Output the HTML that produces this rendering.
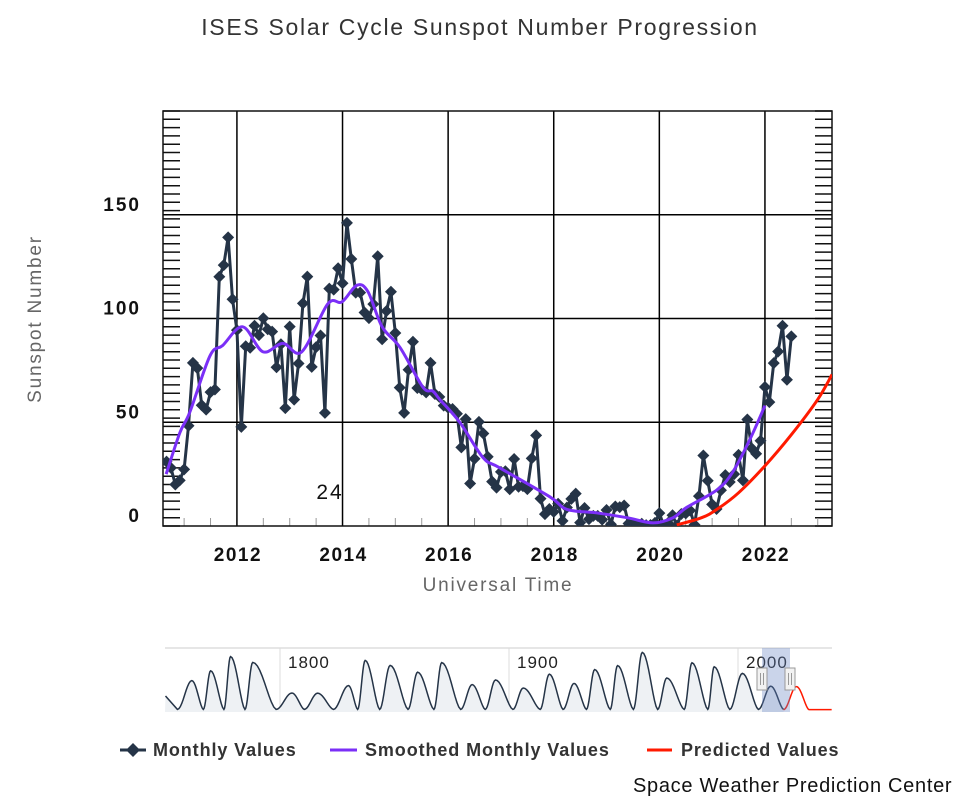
<!DOCTYPE html>
<html><head><meta charset="utf-8"><style>
body{margin:0;background:#fff;width:960px;height:800px;overflow:hidden;font-family:"Liberation Sans","DejaVu Sans",sans-serif}
svg text{font-family:"Liberation Sans","DejaVu Sans",sans-serif}
</style></head><body>
<svg id="c" width="960" height="800" xmlns="http://www.w3.org/2000/svg">
<text x="480" y="35" text-anchor="middle" font-size="23" letter-spacing="1.7" fill="#333">ISES Solar Cycle Sunspot Number Progression</text>
<text transform="translate(41,319) rotate(-90)" text-anchor="middle" font-size="19" letter-spacing="1.8" fill="#666">Sunspot Number</text>
<text x="498" y="591" text-anchor="middle" font-size="19" letter-spacing="1.8" fill="#666">Universal Time</text>
<g id="plot"></g>
<g id="nav"></g>
<g>
 <g><line x1="120" y1="750" x2="146" y2="750" stroke="#253447" stroke-width="3"/><path d="M133 743 L140 750 L133 757 L126 750Z" fill="#253447"/><text x="153" y="756" font-size="18" letter-spacing="0.9" font-weight="bold" fill="#333">Monthly Values</text></g>
 <g><line x1="330" y1="750" x2="357" y2="750" stroke="#7b2ff7" stroke-width="3"/><text x="365" y="756" font-size="18" letter-spacing="0.9" font-weight="bold" fill="#333">Smoothed Monthly Values</text></g>
 <g><line x1="647" y1="750" x2="672" y2="750" stroke="#ff1a00" stroke-width="3"/><text x="681" y="756" font-size="18" letter-spacing="0.9" font-weight="bold" fill="#333">Predicted Values</text></g>
</g>
<text x="633" y="792" font-size="20" letter-spacing="0.7" fill="#111">Space Weather Prediction Center</text>
</svg>
<script>
const monthlyStart = 2010 + 8/12; // Sep 2010
const monthlyValues = [31,28,20,22,
27.3,48.3,78.6,76.1,58.2,56.1,64.5,65.8,120.1,125.7,139.1,109.3,
94.4,47.8,86.6,85.9,96.5,92.0,100.1,94.8,93.7,76.5,87.6,56.8,
96.1,60.9,78.3,107.3,120.2,76.7,86.2,91.8,54.5,114.4,113.9,124.2,
117.0,146.1,128.7,112.5,112.5,102.9,100.2,106.9,130.0,90.0,103.6,112.9,
93.0,66.7,54.5,75.3,88.8,66.5,65.8,64.4,78.6,63.6,62.2,58.0,
57.0,56.4,54.1,37.9,51.5,20.5,32.4,50.2,44.6,33.4,21.4,18.5,
26.1,26.4,17.7,32.3,18.9,19.2,17.8,32.6,43.7,13.2,5.7,8.2,
6.8,10.7,2.5,8.9,13.1,15.6,1.6,8.7,3.3,4.9,4.9,3.1,
7.7,0.8,9.4,9.1,9.9,1.2,0.9,0.5,1.1,0.4,0.5,1.5,
6.2,0.2,1.5,5.2,0.2,5.8,6.1,7.5,0.6,14.4,34.0,21.8,
10.4,8.2,17.2,24.5,21.2,25.0,34.3,22.0,51.3,37.4,34.8,41.1,
67.0,59.7,78.5,84.1,96.5,70.5,91.4];
const smoothYears = [2010.66,2010.92,2011.11,2011.49,2011.73,2012.11,2012.49,2012.87,2013.23,2013.72,2013.99,2014.27,2014.48,2014.75,2015.09,2015.52,2015.71,2015.84,2016.22,2016.66,2016.98,2017.93,2018.25,2018.82,2019.39,2019.88,2020.26,2020.52,2021.09,2021.39,2021.72,2022.0];
const smoothValues = [25,45,55,82,87,96,84,88,84,107,108,116,113,96,86,67,65,61,50,33,28,14,8,6.3,4,1.5,4,9,17.4,26,42,58];
const predYears = [2020.33,2020.8,2021.09,2021.5,2022.0,2022.5,2023.0,2023.27];
const predValues = [0.5,4,8,16,29,44,61,73];
const yTicks = [0,50,100,150];
const xTicks = [2012,2014,2016,2018,2020,2022];
const cycleLabel = "24";
const cycleMinYears = [1755.2,1766.5,1775.5,1784.7,1798.3,1810.6,1823.3,1833.9,1843.5,1855.9,1867.2,1878.9,1889.6,1901.7,1913.6,1923.6,1933.8,1944.2,1954.3,1964.9,1976.5,1986.8,1996.4,2008.9,2019.9];
const cycleMaxYears = [1761.5,1769.7,1778.4,1788.1,1805.2,1816.4,1829.9,1837.2,1848.1,1860.1,1870.6,1883.9,1894.1,1906.2,1917.6,1928.4,1937.4,1947.4,1958.2,1968.9,1979.9,1989.6,2001.9,2014.3];
const cycleMaxValues = [144,193,264,235,82,81,119,245,220,186,234,124,147,107,176,130,199,219,285,157,233,213,180,116];
const navTicks = [1800,1900,2000];

const NS="http://www.w3.org/2000/svg";
function mk(tag,attrs,parent){const e=document.createElementNS(NS,tag);for(const k in attrs)e.setAttribute(k,attrs[k]);parent.appendChild(e);return e;}
const L=163,R=832,T=111,B=526;
const X0=2010.6,X1=2023.27,Y1=200,Y0=0;
const xs=y=>L+(y-X0)/(X1-X0)*(R-L);
const ys=v=>B-(v-Y0)/(Y1-Y0)*(B-T);
const plot=document.getElementById('plot');
const defs=mk('defs',{},plot);
const cp=mk('clipPath',{id:'pc'},defs);mk('rect',{x:L,y:T-8,width:R-L,height:B-T+8},cp);
for(let v=Y0;v<=Y1;v+=4){const y=ys(v);
 const t1=mk('line',{x1:L,x2:L+17,y1:y,y2:y,stroke:'#111','stroke-width':1.5},plot);
 
 const t2=mk('line',{x1:R-17,x2:R,y1:y,y2:y,stroke:'#111','stroke-width':1.5},plot);
 }
for(let yr=2011;yr<=2023;yr+=0.5){const x=xs(yr);const t=mk('line',{x1:x,x2:x,y1:B-8,y2:B,stroke:'#999','stroke-width':1},plot);
 }
yTicks.forEach(v=>{const y=ys(v);
 if(v>0){const g=mk('line',{x1:L,x2:R,y1:y,y2:y,stroke:'#000','stroke-width':1.5},plot);}
 const t=mk('text',{x:141,y:y-4,'text-anchor':'end','font-size':19,'letter-spacing':2,'font-weight':'bold',fill:'#111'},plot);t.textContent=v;
 });
xTicks.forEach(v=>{const x=xs(v);
 const g=mk('line',{x1:x,x2:x,y1:T,y2:B,stroke:'#000','stroke-width':1.5},plot);
 const t=mk('text',{x:x+1,y:B+35,'text-anchor':'middle','font-size':19,'letter-spacing':1.5,'font-weight':'bold',fill:'#111'},plot);t.textContent=v;
 });
const fr=mk('rect',{x:L,y:T,width:R-L,height:B-T,fill:'none',stroke:'#111','stroke-width':1.5},plot);

const cl=mk('text',{x:330,y:499,'text-anchor':'middle','font-size':21,'letter-spacing':2,fill:'#111'},plot);cl.textContent=cycleLabel;

const series=mk('g',{'clip-path':'url(#pc)'},plot);
function smoothPath(pts){let d=`M${pts[0][0]},${pts[0][1]}`;for(let i=0;i<pts.length-1;i++){const p0=pts[Math.max(0,i-1)],p1=pts[i],p2=pts[i+1],p3=pts[Math.min(pts.length-1,i+2)];
 d+=` C${p1[0]+(p2[0]-p0[0])/6},${p1[1]+(p2[1]-p0[1])/6} ${p2[0]-(p3[0]-p1[0])/6},${p2[1]-(p3[1]-p1[1])/6} ${p2[0]},${p2[1]}`;}return d;}
const mpts=monthlyValues.map((v,i)=>[xs(monthlyStart+i/12),ys(v)]);
const ml=mk('polyline',{points:mpts.map(p=>p.join(',')).join(' '),fill:'none',stroke:'#253447','stroke-width':3,'stroke-linejoin':'round'},series);

mpts.forEach(p=>{const d=mk('path',{d:`M${p[0]},${p[1]-6} L${p[0]+6},${p[1]} L${p[0]},${p[1]+6} L${p[0]-6},${p[1]}Z`,fill:'#253447'},series);
 });
const sp=mk('path',{d:smoothPath(smoothYears.map((y,i)=>[xs(y),ys(smoothValues[i])])),fill:'none',stroke:'#7b2ff7','stroke-width':3},series);

const pp=mk('path',{d:smoothPath(predYears.map((y,i)=>[xs(y),ys(predValues[i])])),fill:'none',stroke:'#ff1a00','stroke-width':3},series);


const nav=document.getElementById('nav');
const NL=165,NR=832,NT=648,NB=712;
const nx=y=>280+(y-1800)*2.29;
const ny=v=>710-v*0.2;
const bg=mk('rect',{x:NL,y:NT,width:NR-NL,height:NB-NT,fill:'#fff'},nav);

mk('line',{x1:NL,x2:NR,y1:NT,y2:NT,stroke:'#ccc','stroke-width':1},nav);
navTicks.forEach(v=>{const x=nx(v);const g=mk('line',{x1:x,x2:x,y1:NT,y2:NB,stroke:'#ddd'},nav);
 const t=mk('text',{x:x+8,y:668,'font-size':17,'letter-spacing':1,fill:'#222'},nav);t.textContent=v;});
let npts=[[1750,70]];
for(let i=0;i<cycleMaxYears.length;i++){const a=cycleMinYears[i],m=cycleMaxYears[i],b=cycleMinYears[i+1],h=cycleMaxValues[i];
 for(let s=0;s<=1;s+=0.1)npts.push([a+(m-a)*s,h*Math.pow(Math.sin(s*Math.PI/2),2)+3]);
 for(let s=0.1;s<=1;s+=0.1)npts.push([m+(b-m)*s,h*Math.pow(Math.cos(s*Math.PI/2),1.6)+3]);}
npts=npts.filter(p=>p[0]>=1750&&p[0]<=2022.5);
const nd=npts.map((p,i)=>(i?'L':'M')+nx(p[0])+','+ny(p[1])).join(' ');
const na=mk('path',{d:nd+` L${nx(npts[npts.length-1][0])},${NB} L${NL},${NB}Z`,fill:'#eef1f4'},nav);

const nl=mk('path',{d:nd,fill:'none',stroke:'#253447','stroke-width':1.5},nav);

const pr=[];for(let y=2019.9;y<=2041;y+=0.3){let v=y<2025.5?115*Math.pow(Math.sin((y-2019.9)/5.6*Math.PI/2),2):Math.max(0,115*Math.pow(Math.cos(Math.min(1,(y-2025.5)/5.5)*Math.PI/2),1.6));pr.push([nx(y),ny(v+2)]);}
const np=mk('polyline',{points:pr.map(p=>p.join(',')).join(' '),fill:'none',stroke:'#ff1a00','stroke-width':1.5},nav);

const sel=mk('rect',{x:762,y:NT,width:28,height:NB-NT,fill:'rgba(102,133,194,0.35)'},nav);

[762,790].forEach((x,i)=>{const h=mk('g',{},nav);
 mk('rect',{x:x-5,y:668,width:10,height:22,fill:'#f2f2f2',stroke:'#999','stroke-width':1},h);
 mk('line',{x1:x-1.5,x2:x-1.5,y1:673,y2:685,stroke:'#999'},h);mk('line',{x1:x+1.5,x2:x+1.5,y1:673,y2:685,stroke:'#999'},h);});
</script>
</body></html>
